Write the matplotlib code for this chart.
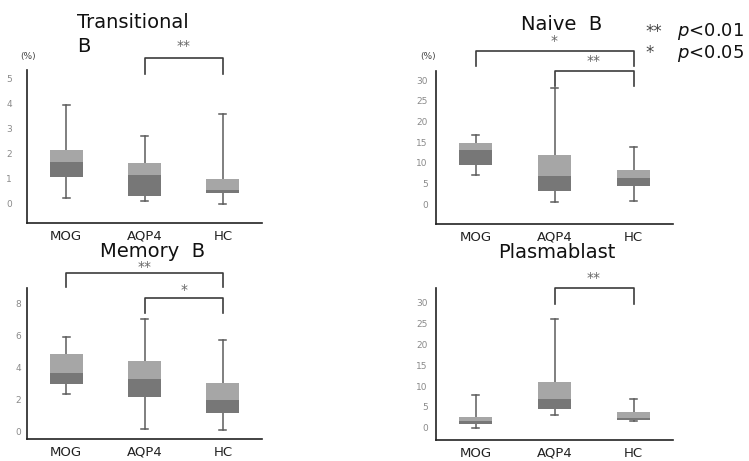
import matplotlib
matplotlib.use("Agg")
import matplotlib.pyplot as plt

# ---------------- data ----------------
categories = ["MOG", "AQP4", "HC"]

trans_whislo = [0.24, 0.11, 0.0]
trans_q1 = [1.08, 0.31, 0.43]
trans_med = [1.66, 1.14, 0.56]
trans_q3 = [2.14, 1.63, 0.98]
trans_whishi = [3.93, 2.70, 3.59]
trans_yticks = [0, 1, 2, 3, 4, 5]

naive_whislo = [7.1, 0.5, 0.7]
naive_q1 = [9.55, 3.1, 4.4]
naive_med = [13.0, 6.8, 6.3]
naive_q3 = [14.7, 11.8, 8.2]
naive_whishi = [16.7, 28.0, 13.7]
naive_yticks = [0, 5, 10, 15, 20, 25, 30]

memory_whislo = [2.30, 0.13, 0.06]
memory_q1 = [2.95, 2.15, 1.13]
memory_med = [3.64, 3.26, 1.95]
memory_q3 = [4.81, 4.35, 2.99]
memory_whishi = [5.88, 7.03, 5.71]
memory_yticks = [0, 2, 4, 6, 8]

plasma_whislo = [0.1, 3.2, 1.6]
plasma_q1 = [1.0, 4.4, 2.0]
plasma_med = [1.75, 7.0, 2.3]
plasma_q3 = [2.7, 11.0, 3.8]
plasma_whishi = [7.9, 25.9, 7.0]
plasma_yticks = [0, 5, 10, 15, 20, 25, 30]

# significance comparisons: (left index, right index, label)
trans_sig = [(1, 2, "**")]
naive_sig = [(0, 2, "*"), (1, 2, "**")]
memory_sig = [(0, 2, "**"), (1, 2, "*")]
plasma_sig = [(1, 2, "**")]

legend_marks = ["**", "*"]
legend_texts = [r"$p$<0.01", r"$p$<0.05"]

# ---------------- style ----------------
DARK = "#777777"
LIGHT = "#a6a6a6"
WHISK = "#5c5c5c"
BRACKET = "#3c3c3c"

W, H = 749, 461
fig = plt.figure(figsize=(W / 100, H / 100), dpi=100)


def rect(x0, y0, x1, y1):
    return [x0 / W, 1 - y1 / H, (x1 - x0) / W, (y1 - y0) / H]


def fx(px):
    return px / W


def fy(py):
    return 1 - py / H


def draw_panel(ax, lo, q1, med, q3, hi, ylim, yticks, ypad, sig, sig_levels):
    pos = list(range(len(categories)))
    stats = [dict(whislo=a, q1=b, med=c, q3=d, whishi=e, fliers=[])
             for a, b, c, d, e in zip(lo, q1, med, q3, hi)]
    ax.bxp(stats, positions=pos, widths=0.42, showbox=False, showcaps=True,
           showfliers=False, capwidths=0.09,
           whiskerprops=dict(color=WHISK, lw=1.1),
           capprops=dict(color=WHISK, lw=1.1),
           medianprops=dict(linewidth=0))
    ax.bar(pos, [m - a for m, a in zip(med, q1)], bottom=q1, width=0.42,
           color=DARK, zorder=3)
    ax.bar(pos, [b - m for m, b in zip(med, q3)], bottom=med, width=0.42,
           color=LIGHT, zorder=3)
    ax.set_xlim(-0.5, 2.5)
    ax.set_ylim(*ylim)
    ax.set_yticks(yticks)
    ax.set_xticks(pos, categories)
    for s in ("top", "right"):
        ax.spines[s].set_visible(False)
    for s in ("left", "bottom"):
        ax.spines[s].set_color("#222222")
        ax.spines[s].set_linewidth(1.2)
    ax.tick_params(axis="y", length=0, labelsize=6.5, labelcolor="#8a8a8a",
                   pad=ypad)
    ax.tick_params(axis="x", length=0, labelsize=9.5, labelcolor="#222222",
                   pad=5)
    ax.patch.set_alpha(0)
    for (i, j, lab), (top, leg, ty) in zip(sig, sig_levels):
        ax.plot([i, i, j, j], [leg, top, top, leg], color=BRACKET, lw=1.2,
                clip_on=False)
        ax.text((i + j) / 2, ty, lab, ha="center", va="center", fontsize=10,
                color="#666666", clip_on=False)


ax1 = fig.add_axes(rect(27, 70, 262, 223))
draw_panel(ax1, trans_whislo, trans_q1, trans_med, trans_q3, trans_whishi,
           (-0.76, 5.34), trans_yticks, 11, trans_sig,
           [(5.82, 5.18, 6.3)])

ax2 = fig.add_axes(rect(436, 71, 673, 224))
draw_panel(ax2, naive_whislo, naive_q1, naive_med, naive_q3, naive_whishi,
           (-4.84, 32.2), naive_yticks, 6, naive_sig,
           [(37.0, 33.4, 39.4), (32.2, 28.6, 34.5)])

ax3 = fig.add_axes(rect(27, 288, 262, 439))
draw_panel(ax3, memory_whislo, memory_q1, memory_med, memory_q3, memory_whishi,
           (-0.5, 8.94), memory_yticks, 4, memory_sig,
           [(9.875, 9.0, 10.25), (8.31, 7.375, 8.8)])

ax4 = fig.add_axes(rect(436, 288, 673, 440))
draw_panel(ax4, plasma_whislo, plasma_q1, plasma_med, plasma_q3, plasma_whishi,
           (-2.88, 33.4), plasma_yticks, 6, plasma_sig,
           [(33.3, 29.7, 35.7)])

# titles
title_kw = dict(va="baseline", fontsize=14, color="#111111")
fig.text(fx(77), fy(28), "Transitional", ha="left", **title_kw)
fig.text(fx(77), fy(52), "B", ha="left", **title_kw)
fig.text(fx(562), fy(30), "Naive  B", ha="center", **title_kw)
fig.text(fx(153), fy(257), "Memory  B", ha="center", **title_kw)
fig.text(fx(557), fy(258), "Plasmablast", ha="center", **title_kw)

# unit labels
fig.text(fx(28), fy(56), "(%)", ha="center", va="center", fontsize=6.5,
         color="#444444")
fig.text(fx(428), fy(56), "(%)", ha="center", va="center", fontsize=6.5,
         color="#444444")

# significance legend
for k, (mk, tx) in enumerate(zip(legend_marks, legend_texts)):
    yy = 32 + 21 * k
    fig.text(fx(645), fy(yy), mk, ha="left", va="center", fontsize=12,
             color="#444444")
    fig.text(fx(677), fy(yy), tx, ha="left", va="center", fontsize=13,
             color="#111111")

fig.savefig("out.png", dpi=100)
